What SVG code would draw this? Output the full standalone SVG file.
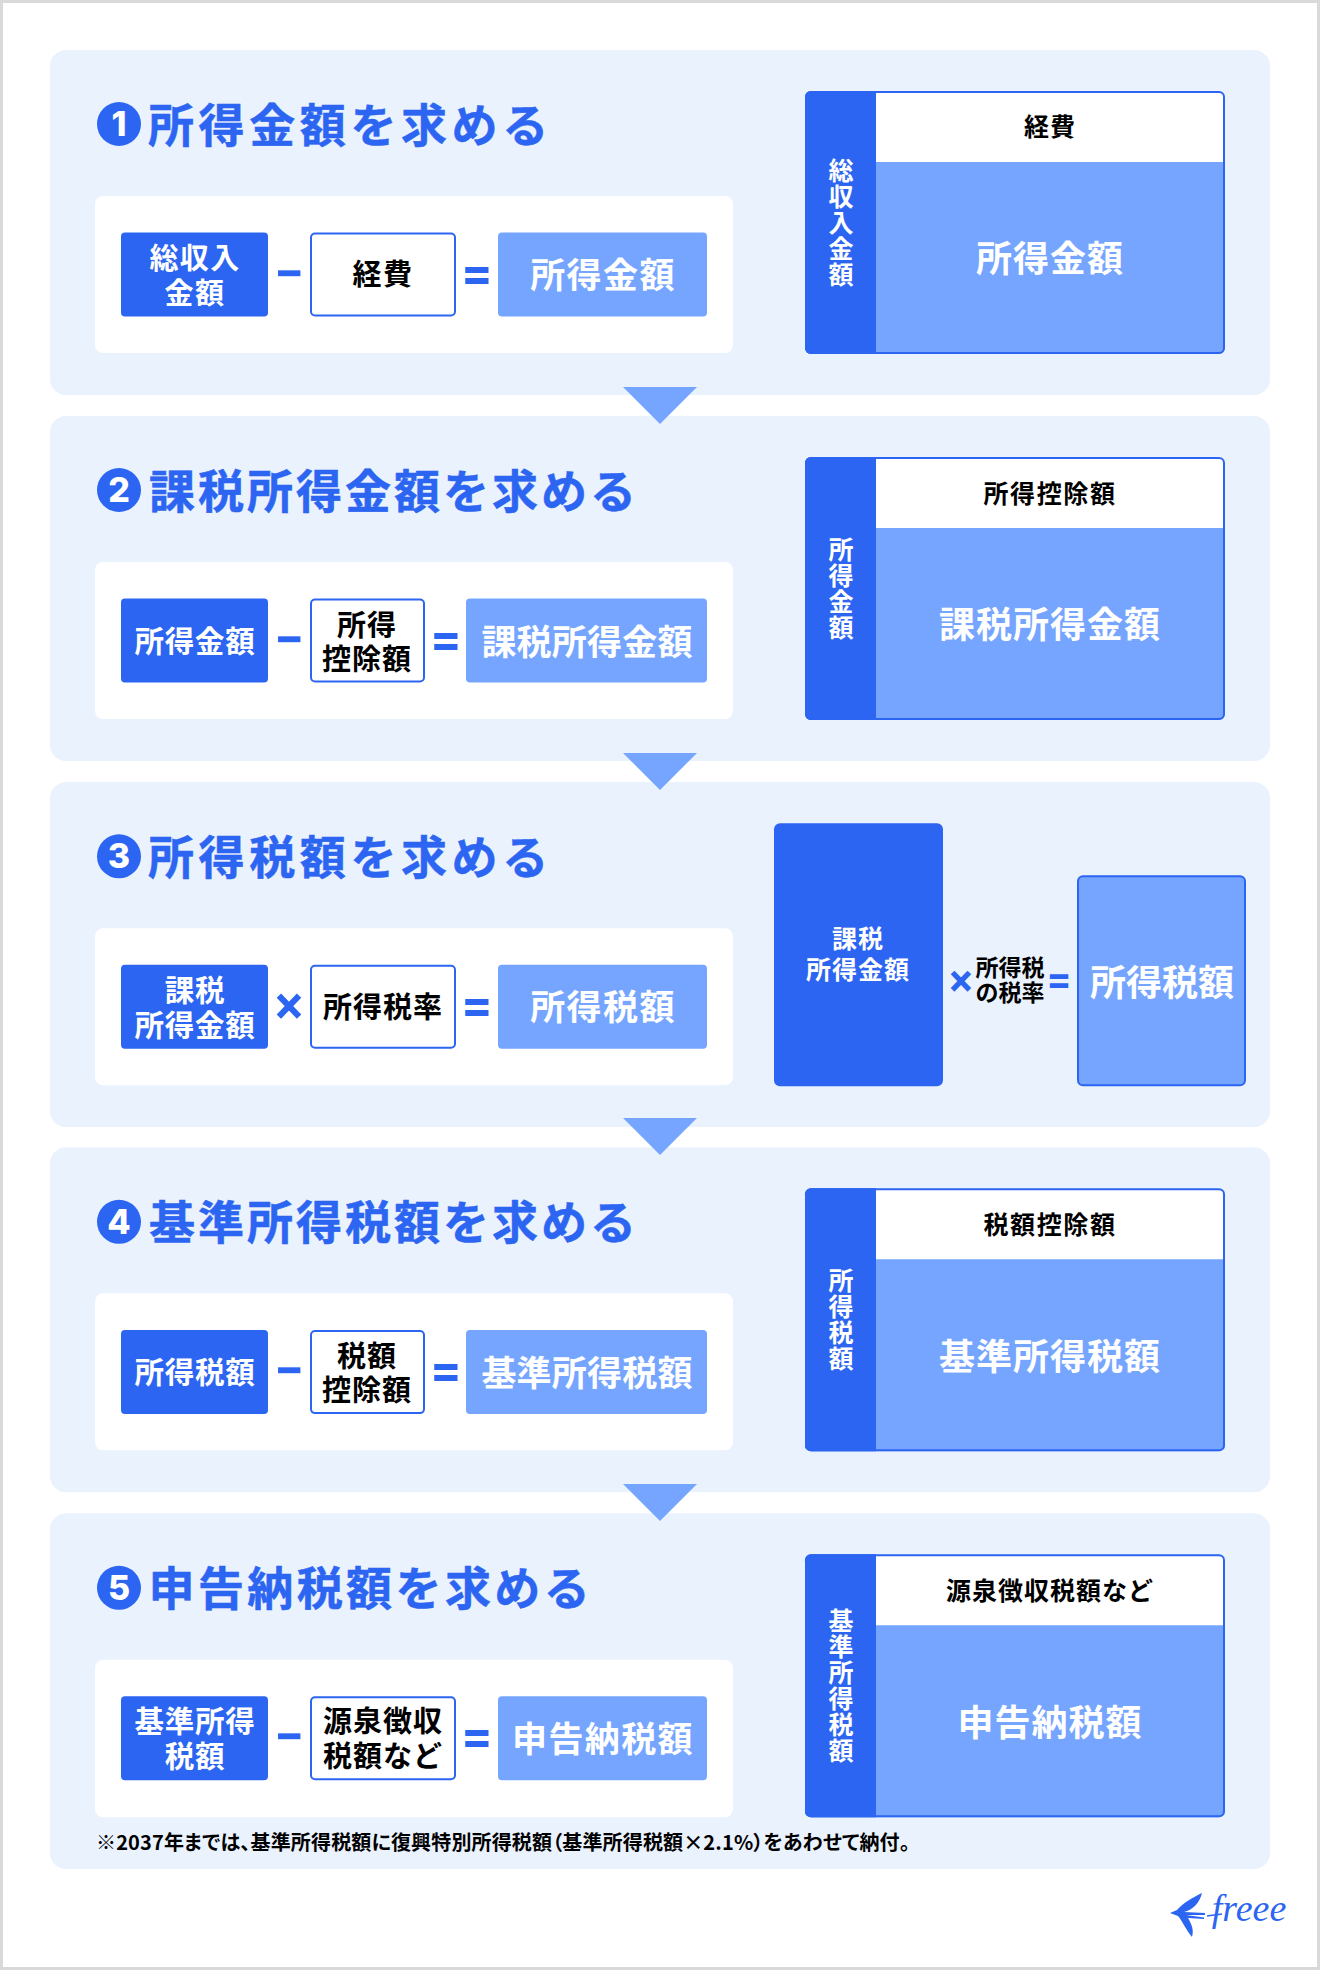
<svg xmlns="http://www.w3.org/2000/svg" width="1320" height="1970" viewBox="0 0 1320 1970">
<style>
text{font-family:"Noto Sans CJK JP","Noto Sans",sans-serif;font-weight:700;text-anchor:middle}
.panel{fill:#eaf2fe}
.inner{fill:#fff}
.dark{fill:#2c65f1}
.mid{fill:#fff;stroke:#2c65f1;stroke-width:2}
.res{fill:#75a5ff}
.w{fill:#fff}.k{fill:#000}.b{fill:#2c65f1}
.h{font-size:46px;letter-spacing:3px;text-anchor:start;stroke:#2c65f1;stroke-width:.5px}
.h8{letter-spacing:4.6px}
.h9{letter-spacing:3.4px}
.num{font-size:34px;font-family:Inter,"Noto Sans",sans-serif;font-weight:800}
.t29{font-size:29px;letter-spacing:1.4px}
.t30{font-size:29.500px;letter-spacing:.8px}
.t30k{font-size:29px;letter-spacing:1px}
.t35{font-size:35px;letter-spacing:1.4px}
.t6{font-size:35px;letter-spacing:.2px}
.hd{font-size:25px;letter-spacing:1px}
.hd5{font-size:25px;letter-spacing:1.6px}
.big{font-size:36px;letter-spacing:1px}
.v{font-size:25px;writing-mode:vertical-rl;letter-spacing:1px}
.op{font-size:53px;font-family:Roboto,"Noto Sans",sans-serif;font-weight:700;fill:#2c65f1}
.note{font-size:20px;letter-spacing:.15px;text-anchor:start;font-feature-settings:"palt"}
</style>
<defs>
<g id="rd">
<rect x="805" y="41" width="420" height="263" rx="6" class="res"/>
<path d="M876 41H1219a6 6 0 0 1 6 6V112H876Z" fill="#fff"/>
<path d="M876 41H811a6 6 0 0 0-6 6V298a6 6 0 0 0 6 6H876Z" class="dark"/>
<rect x="806" y="42" width="418" height="261" rx="5" fill="none" stroke="#2c65f1" stroke-width="2"/>
</g>
</defs>
<rect width="1320" height="1970" fill="#fff"/>
<rect x="1.500" y="1.500" width="1317" height="1967" fill="none" stroke="#d9d9d9" stroke-width="3"/>

<g id="step1" transform="translate(0,50)">
<rect class="panel" x="50" width="1220" height="345" rx="16"/>
<rect class="inner" x="95" y="146" width="638" height="157" rx="8"/>
<g id="step1-title"><circle class="b" cx="119" cy="74" r="22"/><text class="num w" x="119" y="86">1</text><text class="h h8 b" x="148" y="92">所得金額を求める</text></g>
<g id="step1-a"><rect class="dark" x="121" y="182.500" width="147" height="84" rx="4"/><text class="t29 w" x="195" y="219">総収入</text><text class="t29 w" x="195" y="254">金額</text></g>
<text class="op" x="289" y="242">−</text>
<g id="step1-b"><rect class="mid" x="311" y="183.500" width="144" height="82" rx="4"/><text class="t29 k" x="383" y="235">経費</text></g>
<text class="op" x="477" y="242">=</text>
<g id="step1-c"><rect class="res" x="498" y="182.500" width="209" height="84" rx="4"/><text class="t35 w" x="603" y="238">所得金額</text></g>
<g id="step1-fig"><use href="#rd"/><text class="hd k" x="1050" y="86">経費</text><text class="big w" x="1050" y="222">所得金額</text><text class="v w" x="841" y="173">総収入金額</text></g>
</g>

<g id="step2" transform="translate(0,416)">
<rect class="panel" x="50" width="1220" height="345" rx="16"/>
<rect class="inner" x="95" y="146" width="638" height="157" rx="8"/>
<g id="step2-title"><circle class="b" cx="119" cy="74" r="22"/><text class="num w" x="119" y="86">2</text><text class="h b" x="149" y="92">課税所得金額を求める</text></g>
<g id="step2-a"><rect class="dark" x="121" y="182.500" width="147" height="84" rx="4"/><text class="t30 w" x="195" y="236">所得金額</text></g>
<text class="op" x="289" y="242">−</text>
<g id="step2-b"><rect class="mid" x="311" y="183.500" width="113" height="82" rx="4"/><text class="t30k k" x="367" y="220">所得</text><text class="t30k k" x="367" y="254">控除額</text></g>
<text class="op" x="446" y="242">=</text>
<g id="step2-c"><rect class="res" x="466" y="182.500" width="241" height="84" rx="4"/><text class="t6 w" x="587" y="239">課税所得金額</text></g>
<g id="step2-fig"><use href="#rd"/><text class="hd5 k" x="1050" y="87">所得控除額</text><text class="big w" x="1050" y="222">課税所得金額</text><text class="v w" x="841" y="173">所得金額</text></g>
</g>

<g id="step3" transform="translate(0,782.300)">
<rect class="panel" x="50" y="-.3" width="1220" height="345" rx="16"/>
<rect class="inner" x="95" y="146" width="638" height="157" rx="8"/>
<g id="step3-title"><circle class="b" cx="119" cy="74" r="22"/><text class="num w" x="119" y="86">3</text><text class="h h8 b" x="148" y="92">所得税額を求める</text></g>
<g id="step3-a"><rect class="dark" x="121" y="182.500" width="147" height="84" rx="4"/><text class="t30 w" x="195" y="219">課税</text><text class="t30 w" x="195" y="254">所得金額</text></g>
<text class="op" x="289" y="242">×</text>
<g id="step3-b"><rect class="mid" x="311" y="183.500" width="144" height="82" rx="4"/><text class="t30k k" x="383" y="236">所得税率</text></g>
<text class="op" x="477" y="242">=</text>
<g id="step3-c"><rect class="res" x="498" y="182.500" width="209" height="84" rx="4"/><text class="t35 w" x="603" y="238">所得税額</text></g>
<g id="step3-fig">
<rect class="dark" x="774" y="41" width="169" height="263" rx="6"/>
<text class="hd w" x="858" y="166">課税</text><text class="hd w" x="858" y="197">所得金額</text>
<text class="op" style="font-size:44px" x="961" y="214">×</text>
<text style="font-size:23px" class="k" x="1010" y="194">所得税</text><text style="font-size:23px" class="k" x="1010" y="219">の税率</text>
<text class="op" style="font-size:42px" x="1059" y="213">=</text>
<rect x="1078" y="94" width="167" height="209" rx="5" class="res" stroke="#2c65f1" stroke-width="2"/>
<text class="big w" style="letter-spacing:0" x="1162" y="214">所得税額</text>
</g>
</g>

<g id="step4" transform="translate(0,1147.300)">
<rect class="panel" x="50" width="1220" height="345" rx="16"/>
<rect class="inner" x="95" y="146" width="638" height="157" rx="8"/>
<g id="step4-title"><circle class="b" cx="119" cy="74.500" r="22"/><text class="num w" x="119" y="87">4</text><text class="h b" x="149" y="92">基準所得税額を求める</text></g>
<g id="step4-a"><rect class="dark" x="121" y="182.800" width="147" height="84" rx="4"/><text class="t30 w" x="195" y="236">所得税額</text></g>
<text class="op" x="289" y="242">−</text>
<g id="step4-b"><rect class="mid" x="311" y="183.800" width="113" height="82" rx="4"/><text class="t30k k" x="367" y="220">税額</text><text class="t30k k" x="367" y="254">控除額</text></g>
<text class="op" x="446" y="242">=</text>
<g id="step4-c"><rect class="res" x="466" y="182.800" width="241" height="84" rx="4"/><text class="t6 w" x="587" y="239">基準所得税額</text></g>
<g id="step4-fig"><use href="#rd"/><text class="hd5 k" x="1050" y="87">税額控除額</text><text class="big w" x="1050" y="223">基準所得税額</text><text class="v w" x="841" y="173">所得税額</text></g>
</g>

<g id="step5" transform="translate(0,1513.300)">
<rect class="panel" x="50" width="1220" height="355.700" rx="16"/>
<rect class="inner" x="95" y="146.500" width="638" height="157.500" rx="8"/>
<g id="step5-title"><circle class="b" cx="119" cy="74.500" r="22"/><text class="num w" x="119" y="87">5</text><text class="h h9 b" x="148.500" y="92">申告納税額を求める</text></g>
<g id="step5-a"><rect class="dark" x="121" y="183" width="147" height="84" rx="4"/><text class="t30 w" x="195" y="219">基準所得</text><text class="t30 w" x="195" y="254">税額</text></g>
<text class="op" x="289" y="242">−</text>
<g id="step5-b"><rect class="mid" x="311" y="184" width="144" height="82" rx="4"/><text class="t30k k" x="383" y="219">源泉徴収</text><text class="t30k k" x="383" y="254">税額など</text></g>
<text class="op" x="477" y="242">=</text>
<g id="step5-c"><rect class="res" x="498" y="183" width="209" height="84" rx="4"/><text class="t35 w" x="603" y="239">申告納税額</text></g>
<g id="step5-fig"><use href="#rd"/><text class="hd k" x="1050" y="87">源泉徴収税額など</text><text class="big w" x="1050" y="223">申告納税額</text><text class="v w" x="841" y="173">基準所得税額</text></g>
<text class="note k" x="96" y="337">※2037年までは、基準所得税額に復興特別所得税額（基準所得税額×2.1%）をあわせて納付。</text>
</g>

<g id="connectors" fill="#75a5ff">
<path d="M623 387H697L660 424Z"/>
<path d="M623 753H697L660 790Z"/>
<path d="M623 1118H697L660 1155Z"/>
<path d="M623 1484H697L660 1521Z"/>
</g>

<g id="logo">
<path fill="#2c65f1" d="M1202 1893C1200 1902 1193 1910 1184 1912L1205 1913L1205 1915L1186 1915L1204 1917.500L1204 1919L1188 1918C1192 1925 1194 1930 1192 1937C1186 1930 1183 1922 1178 1916L1170 1913L1177 1910C1184 1902 1192 1898 1202 1893Z"/>
<path fill="none" stroke="#2c65f1" stroke-width="1.500" d="M1207 1916C1212 1915 1216 1915 1222 1914"/>
<text x="1249" y="1921" style="font-family:'Liberation Serif',serif;font-style:italic;font-size:38px;fill:#2c65f1;font-weight:400">freee</text>
</g>
</svg>
